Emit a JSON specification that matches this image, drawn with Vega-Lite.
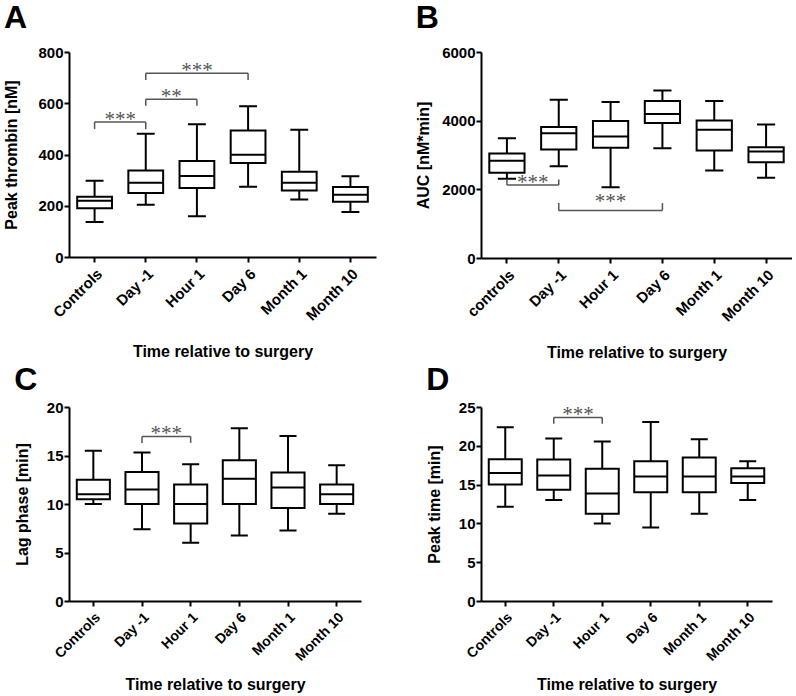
{
"$schema":"https://vega.github.io/schema/vega-lite/v6.json",
"padding":{"left":3,"top":2,"right":0,"bottom":0},
"config":{"font":"Liberation Sans","view":{"stroke":null},
"axis":{"domainColor":"black","domainWidth":2,"tickColor":"black","tickWidth":2,"tickSize":5,"grid":false,"labelFont":"Liberation Sans","labelFontWeight":"bold","labelFontSize":15,"labelColor":"black","titleFont":"Liberation Sans","titleFontWeight":"bold","titleFontSize":16,"titleColor":"black","labelPadding":4,"labelOverlap":false},
"axisX":{"labelAngle":-45,"titlePadding":20},
"axisY":{"labelPadding":1,"format":"d"},
"title":{"anchor":"start","frame":"bounds","font":"Liberation Sans","fontSize":32,"fontWeight":"bold","color":"black","offset":10}},
"datasets":{
"A":[{"group":"Controls","min":137,"q1":190,"median":220,"q3":235,"max":298},{"group":"Day -1","min":204,"q1":250,"median":290,"q3":338,"max":481},{"group":"Hour 1","min":159,"q1":269,"median":316,"q3":375,"max":518},{"group":"Day 6","min":274,"q1":367,"median":399,"q3":494,"max":588},{"group":"Month 1","min":224,"q1":260,"median":290,"q3":333,"max":497},{"group":"Month 10","min":176,"q1":216,"median":243,"q3":273,"max":315}],
"brA":[{"g1":"Controls","g2":"Day -1","mid":"Controls","span":1,"yb":527,"ye":499,"label":"***"},{"g1":"Day -1","g2":"Hour 1","mid":"Day -1","span":1,"yb":616,"ye":590,"label":"**"},{"g1":"Day -1","g2":"Day 6","mid":"Hour 1","span":2,"yb":717,"ye":691,"label":"***"}],
"B":[{"group":"controls","min":2305,"q1":2480,"median":2830,"q3":3044,"max":3491},{"group":"Day -1","min":2674,"q1":3160,"median":3637,"q3":3812,"max":4609},{"group":"Hour 1","min":2062,"q1":3209,"median":3540,"q3":3987,"max":4541},{"group":"Day 6","min":3199,"q1":3929,"median":4191,"q3":4570,"max":4882},{"group":"Month 1","min":2548,"q1":3131,"median":3734,"q3":4006,"max":4570},{"group":"Month 10","min":2334,"q1":2791,"median":3102,"q3":3228,"max":3890}],
"brB":[{"g1":"controls","g2":"Day -1","mid":"controls","span":1,"yb":2126,"ye":2284,"label":"***"},{"g1":"Day -1","g2":"Day 6","mid":"Hour 1","span":2,"yb":1385,"ye":1599,"label":"***"}],
"C":[{"group":"Controls","min":10.0,"q1":10.5,"median":11.0,"q3":12.5,"max":15.5},{"group":"Day -1","min":7.4,"q1":10.0,"median":11.5,"q3":13.3,"max":15.3},{"group":"Hour 1","min":6.0,"q1":8.0,"median":10.0,"q3":12.0,"max":14.1},{"group":"Day 6","min":6.75,"q1":10.0,"median":12.6,"q3":14.5,"max":17.8},{"group":"Month 1","min":7.26,"q1":9.6,"median":11.7,"q3":13.25,"max":17.0},{"group":"Month 10","min":9.0,"q1":10.0,"median":11.0,"q3":12.0,"max":14.0}],
"brC":[{"g1":"Day -1","g2":"Hour 1","mid":"Day -1","span":1,"yb":16.97,"ye":16.3,"label":"***"}],
"D":[{"group":"Controls","min":12.16,"q1":15.0,"median":16.5,"q3":18.28,"max":22.4},{"group":"Day -1","min":13.0,"q1":14.35,"median":16.16,"q3":18.23,"max":20.95},{"group":"Hour 1","min":10.0,"q1":11.25,"median":13.84,"q3":17.03,"max":20.56},{"group":"Day 6","min":9.48,"q1":14.0,"median":16.03,"q3":18.0,"max":23.06},{"group":"Month 1","min":11.25,"q1":14.0,"median":16.03,"q3":18.5,"max":20.86},{"group":"Month 10","min":13.0,"q1":15.2,"median":16.03,"q3":17.1,"max":18.0}],
"brD":[{"g1":"Day -1","g2":"Hour 1","mid":"Day -1","span":1,"yb":23.66,"ye":22.84,"label":"***"}]
},
"columns":2,
"align":"each",
"spacing":{"row":3,"column":39},
"concat":[
{"width":307,"height":205,"title":{"text":"A"},"layer":[
{"data":{"name":"A"},"mark":{"type":"rule","color":"black","strokeWidth":2},"encoding":{"x":{"field":"group","type":"nominal","title":"Time relative to surgery","scale":{"domain":["Controls","Day -1","Hour 1","Day 6","Month 1","Month 10"],"paddingInner":0,"paddingOuter":0}},"y":{"field":"min","type":"quantitative","title":"Peak thrombin [nM]","scale":{"domain":[0,800],"nice":false},"axis":{"values":[0,200,400,600,800],"tickCount":10,"titlePadding":18}},"y2":{"field":"max"}}},
{"data":{"name":"A"},"mark":{"type":"bar","fill":"white","stroke":"black","strokeWidth":2,"width":{"band":0.68}},"encoding":{"x":{"field":"group","type":"nominal","title":"Time relative to surgery"},"y":{"field":"q1","type":"quantitative","title":"Peak thrombin [nM]"},"y2":{"field":"q3"}}},
{"data":{"name":"A"},"mark":{"type":"bar","fill":"white","stroke":"black","strokeWidth":2,"width":{"band":0.68}},"encoding":{"x":{"field":"group","type":"nominal","title":"Time relative to surgery"},"y":{"field":"median","type":"quantitative","title":"Peak thrombin [nM]"},"y2":{"field":"median"}}},
{"data":{"name":"A"},"mark":{"type":"bar","fill":"white","stroke":"black","strokeWidth":2,"width":{"band":0.35}},"encoding":{"x":{"field":"group","type":"nominal","title":"Time relative to surgery"},"y":{"field":"min","type":"quantitative","title":"Peak thrombin [nM]"},"y2":{"field":"min"}}},
{"data":{"name":"A"},"mark":{"type":"bar","fill":"white","stroke":"black","strokeWidth":2,"width":{"band":0.35}},"encoding":{"x":{"field":"group","type":"nominal","title":"Time relative to surgery"},"y":{"field":"max","type":"quantitative","title":"Peak thrombin [nM]"},"y2":{"field":"max"}}},
{"data":{"name":"brA"},"mark":{"type":"rule","color":"#555","strokeWidth":1.5},"encoding":{"x":{"field":"g1","type":"nominal","title":"Time relative to surgery"},"x2":{"field":"g2"},"y":{"field":"yb","type":"quantitative","title":"Peak thrombin [nM]"}}},
{"data":{"name":"brA"},"mark":{"type":"rule","color":"#555","strokeWidth":1.5},"encoding":{"x":{"field":"g1","type":"nominal","title":"Time relative to surgery"},"y":{"field":"yb","type":"quantitative","title":"Peak thrombin [nM]"},"y2":{"field":"ye"}}},
{"data":{"name":"brA"},"mark":{"type":"rule","color":"#555","strokeWidth":1.5},"encoding":{"x":{"field":"g2","type":"nominal","title":"Time relative to surgery"},"y":{"field":"yb","type":"quantitative","title":"Peak thrombin [nM]"},"y2":{"field":"ye"}}},
{"data":{"name":"brA"},"transform":[{"filter":"datum.span == 1"}],"mark":{"type":"text","color":"#555","font":"Liberation Serif","fontSize":21,"baseline":"alphabetic","dy":4},"encoding":{"x":{"field":"mid","type":"nominal","bandPosition":1,"title":"Time relative to surgery"},"y":{"field":"yb","type":"quantitative","title":"Peak thrombin [nM]"},"text":{"field":"label"}}},
{"data":{"name":"brA"},"transform":[{"filter":"datum.span == 2"}],"mark":{"type":"text","color":"#555","font":"Liberation Serif","fontSize":21,"baseline":"alphabetic","dy":4},"encoding":{"x":{"field":"mid","type":"nominal","bandPosition":0.5,"title":"Time relative to surgery"},"y":{"field":"yb","type":"quantitative","title":"Peak thrombin [nM]"},"text":{"field":"label"}}}
]},
{"width":311,"height":206,"title":{"text":"B"},"layer":[
{"data":{"name":"B"},"mark":{"type":"rule","color":"black","strokeWidth":2},"encoding":{"x":{"field":"group","type":"nominal","title":"Time relative to surgery","scale":{"domain":["controls","Day -1","Hour 1","Day 6","Month 1","Month 10"],"paddingInner":0,"paddingOuter":0}},"y":{"field":"min","type":"quantitative","title":"AUC [nM*min]","scale":{"domain":[0,6000],"nice":false},"axis":{"values":[0,2000,4000,6000],"tickCount":10,"titlePadding":10}},"y2":{"field":"max"}}},
{"data":{"name":"B"},"mark":{"type":"bar","fill":"white","stroke":"black","strokeWidth":2,"width":{"band":0.68}},"encoding":{"x":{"field":"group","type":"nominal","title":"Time relative to surgery"},"y":{"field":"q1","type":"quantitative","title":"AUC [nM*min]"},"y2":{"field":"q3"}}},
{"data":{"name":"B"},"mark":{"type":"bar","fill":"white","stroke":"black","strokeWidth":2,"width":{"band":0.68}},"encoding":{"x":{"field":"group","type":"nominal","title":"Time relative to surgery"},"y":{"field":"median","type":"quantitative","title":"AUC [nM*min]"},"y2":{"field":"median"}}},
{"data":{"name":"B"},"mark":{"type":"bar","fill":"white","stroke":"black","strokeWidth":2,"width":{"band":0.35}},"encoding":{"x":{"field":"group","type":"nominal","title":"Time relative to surgery"},"y":{"field":"min","type":"quantitative","title":"AUC [nM*min]"},"y2":{"field":"min"}}},
{"data":{"name":"B"},"mark":{"type":"bar","fill":"white","stroke":"black","strokeWidth":2,"width":{"band":0.35}},"encoding":{"x":{"field":"group","type":"nominal","title":"Time relative to surgery"},"y":{"field":"max","type":"quantitative","title":"AUC [nM*min]"},"y2":{"field":"max"}}},
{"data":{"name":"brB"},"mark":{"type":"rule","color":"#555","strokeWidth":1.5},"encoding":{"x":{"field":"g1","type":"nominal","title":"Time relative to surgery"},"x2":{"field":"g2"},"y":{"field":"yb","type":"quantitative","title":"AUC [nM*min]"}}},
{"data":{"name":"brB"},"mark":{"type":"rule","color":"#555","strokeWidth":1.5},"encoding":{"x":{"field":"g1","type":"nominal","title":"Time relative to surgery"},"y":{"field":"yb","type":"quantitative","title":"AUC [nM*min]"},"y2":{"field":"ye"}}},
{"data":{"name":"brB"},"mark":{"type":"rule","color":"#555","strokeWidth":1.5},"encoding":{"x":{"field":"g2","type":"nominal","title":"Time relative to surgery"},"y":{"field":"yb","type":"quantitative","title":"AUC [nM*min]"},"y2":{"field":"ye"}}},
{"data":{"name":"brB"},"transform":[{"filter":"datum.span == 1"}],"mark":{"type":"text","color":"#555","font":"Liberation Serif","fontSize":21,"baseline":"alphabetic","dy":4},"encoding":{"x":{"field":"mid","type":"nominal","bandPosition":1,"title":"Time relative to surgery"},"y":{"field":"yb","type":"quantitative","title":"AUC [nM*min]"},"text":{"field":"label"}}},
{"data":{"name":"brB"},"transform":[{"filter":"datum.span == 2"}],"mark":{"type":"text","color":"#555","font":"Liberation Serif","fontSize":21,"baseline":"alphabetic","dy":-2},"encoding":{"x":{"field":"mid","type":"nominal","bandPosition":0.5,"title":"Time relative to surgery"},"y":{"field":"yb","type":"quantitative","title":"AUC [nM*min]"},"text":{"field":"label"}}}
]},
{"width":292,"height":194,"title":{"text":"C","offset":3},"layer":[
{"data":{"name":"C"},"mark":{"type":"rule","color":"black","strokeWidth":2},"encoding":{"x":{"field":"group","type":"nominal","title":"Time relative to surgery","scale":{"domain":["Controls","Day -1","Hour 1","Day 6","Month 1","Month 10"],"paddingInner":0,"paddingOuter":0},"axis":{"labelFontSize":14,"titlePadding":13}},"y":{"field":"min","type":"quantitative","title":"Lag phase [min]","scale":{"domain":[0,20],"nice":false},"axis":{"values":[0,5,10,15,20],"tickCount":10,"titlePadding":16}},"y2":{"field":"max"}}},
{"data":{"name":"C"},"mark":{"type":"bar","fill":"white","stroke":"black","strokeWidth":2,"width":{"band":0.68}},"encoding":{"x":{"field":"group","type":"nominal","title":"Time relative to surgery"},"y":{"field":"q1","type":"quantitative","title":"Lag phase [min]"},"y2":{"field":"q3"}}},
{"data":{"name":"C"},"mark":{"type":"bar","fill":"white","stroke":"black","strokeWidth":2,"width":{"band":0.68}},"encoding":{"x":{"field":"group","type":"nominal","title":"Time relative to surgery"},"y":{"field":"median","type":"quantitative","title":"Lag phase [min]"},"y2":{"field":"median"}}},
{"data":{"name":"C"},"mark":{"type":"bar","fill":"white","stroke":"black","strokeWidth":2,"width":{"band":0.35}},"encoding":{"x":{"field":"group","type":"nominal","title":"Time relative to surgery"},"y":{"field":"min","type":"quantitative","title":"Lag phase [min]"},"y2":{"field":"min"}}},
{"data":{"name":"C"},"mark":{"type":"bar","fill":"white","stroke":"black","strokeWidth":2,"width":{"band":0.35}},"encoding":{"x":{"field":"group","type":"nominal","title":"Time relative to surgery"},"y":{"field":"max","type":"quantitative","title":"Lag phase [min]"},"y2":{"field":"max"}}},
{"data":{"name":"brC"},"mark":{"type":"rule","color":"#555","strokeWidth":1.5},"encoding":{"x":{"field":"g1","type":"nominal","title":"Time relative to surgery"},"x2":{"field":"g2"},"y":{"field":"yb","type":"quantitative","title":"Lag phase [min]"}}},
{"data":{"name":"brC"},"mark":{"type":"rule","color":"#555","strokeWidth":1.5},"encoding":{"x":{"field":"g1","type":"nominal","title":"Time relative to surgery"},"y":{"field":"yb","type":"quantitative","title":"Lag phase [min]"},"y2":{"field":"ye"}}},
{"data":{"name":"brC"},"mark":{"type":"rule","color":"#555","strokeWidth":1.5},"encoding":{"x":{"field":"g2","type":"nominal","title":"Time relative to surgery"},"y":{"field":"yb","type":"quantitative","title":"Lag phase [min]"},"y2":{"field":"ye"}}},
{"data":{"name":"brC"},"mark":{"type":"text","color":"#555","font":"Liberation Serif","fontSize":21,"baseline":"alphabetic","dy":4},"encoding":{"x":{"field":"mid","type":"nominal","bandPosition":1,"title":"Time relative to surgery"},"y":{"field":"yb","type":"quantitative","title":"Lag phase [min]"},"text":{"field":"label"}}}
]},
{"width":291,"height":194,"title":{"text":"D","offset":3},"layer":[
{"data":{"name":"D"},"mark":{"type":"rule","color":"black","strokeWidth":2},"encoding":{"x":{"field":"group","type":"nominal","title":"Time relative to surgery","scale":{"domain":["Controls","Day -1","Hour 1","Day 6","Month 1","Month 10"],"paddingInner":0,"paddingOuter":0},"axis":{"labelFontSize":14,"titlePadding":13}},"y":{"field":"min","type":"quantitative","title":"Peak time [min]","scale":{"domain":[0,25],"nice":false},"axis":{"values":[0,5,10,15,20,25],"tickCount":10,"titlePadding":16}},"y2":{"field":"max"}}},
{"data":{"name":"D"},"mark":{"type":"bar","fill":"white","stroke":"black","strokeWidth":2,"width":{"band":0.68}},"encoding":{"x":{"field":"group","type":"nominal","title":"Time relative to surgery"},"y":{"field":"q1","type":"quantitative","title":"Peak time [min]"},"y2":{"field":"q3"}}},
{"data":{"name":"D"},"mark":{"type":"bar","fill":"white","stroke":"black","strokeWidth":2,"width":{"band":0.68}},"encoding":{"x":{"field":"group","type":"nominal","title":"Time relative to surgery"},"y":{"field":"median","type":"quantitative","title":"Peak time [min]"},"y2":{"field":"median"}}},
{"data":{"name":"D"},"mark":{"type":"bar","fill":"white","stroke":"black","strokeWidth":2,"width":{"band":0.35}},"encoding":{"x":{"field":"group","type":"nominal","title":"Time relative to surgery"},"y":{"field":"min","type":"quantitative","title":"Peak time [min]"},"y2":{"field":"min"}}},
{"data":{"name":"D"},"mark":{"type":"bar","fill":"white","stroke":"black","strokeWidth":2,"width":{"band":0.35}},"encoding":{"x":{"field":"group","type":"nominal","title":"Time relative to surgery"},"y":{"field":"max","type":"quantitative","title":"Peak time [min]"},"y2":{"field":"max"}}},
{"data":{"name":"brD"},"mark":{"type":"rule","color":"#555","strokeWidth":1.5},"encoding":{"x":{"field":"g1","type":"nominal","title":"Time relative to surgery"},"x2":{"field":"g2"},"y":{"field":"yb","type":"quantitative","title":"Peak time [min]"}}},
{"data":{"name":"brD"},"mark":{"type":"rule","color":"#555","strokeWidth":1.5},"encoding":{"x":{"field":"g1","type":"nominal","title":"Time relative to surgery"},"y":{"field":"yb","type":"quantitative","title":"Peak time [min]"},"y2":{"field":"ye"}}},
{"data":{"name":"brD"},"mark":{"type":"rule","color":"#555","strokeWidth":1.5},"encoding":{"x":{"field":"g2","type":"nominal","title":"Time relative to surgery"},"y":{"field":"yb","type":"quantitative","title":"Peak time [min]"},"y2":{"field":"ye"}}},
{"data":{"name":"brD"},"mark":{"type":"text","color":"#555","font":"Liberation Serif","fontSize":21,"baseline":"alphabetic","dy":4},"encoding":{"x":{"field":"mid","type":"nominal","bandPosition":1,"title":"Time relative to surgery"},"y":{"field":"yb","type":"quantitative","title":"Peak time [min]"},"text":{"field":"label"}}}
]}
]
}
